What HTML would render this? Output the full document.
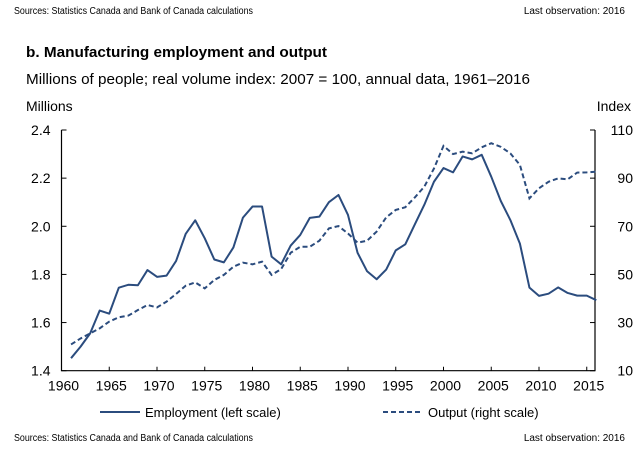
<!DOCTYPE html>
<html><head><meta charset="utf-8"><style>
body{margin:0;background:#fff;width:641px;height:450px;overflow:hidden}
svg{display:block;font-family:"Liberation Sans",Arial,sans-serif}
</style></head><body>
<svg id="chart" width="641" height="450" viewBox="0 0 641 450">
<text x="14" y="14" font-size="10" textLength="239" lengthAdjust="spacingAndGlyphs">Sources:  Statistics Canada and Bank of Canada calculations</text>
<text x="625" y="14" font-size="10" text-anchor="end">Last observation: 2016</text>
<text x="26" y="57" font-size="15" font-weight="bold" textLength="301" lengthAdjust="spacingAndGlyphs">b. Manufacturing employment and output</text>
<text x="26" y="84" font-size="15" textLength="504" lengthAdjust="spacingAndGlyphs">Millions of people; real volume index: 2007 = 100, annual data, 1961–2016</text>
<text x="26" y="111" font-size="14">Millions</text>
<text x="631" y="111" font-size="14" text-anchor="end">Index</text>
<g id="axes"></g>
<g id="series"></g>
<g>
<line x1="100" y1="412" x2="140" y2="412" stroke="#2b4c7e" stroke-width="2"/>
<text x="145" y="417" font-size="13">Employment  (left scale)</text>
<line x1="383" y1="412" x2="423" y2="412" stroke="#2b4c7e" stroke-width="2" stroke-dasharray="5,3"/>
<text x="428" y="417" font-size="13">Output  (right scale)</text>
</g>
<text x="14" y="441" font-size="10" textLength="239" lengthAdjust="spacingAndGlyphs">Sources:  Statistics Canada and Bank of Canada calculations</text>
<text x="625" y="441" font-size="10" text-anchor="end">Last observation: 2016</text>
</svg>
<script>
const years=[1961,1962,1963,1964,1965,1966,1967,1968,1969,1970,1971,1972,1973,1974,1975,1976,1977,1978,1979,1980,1981,1982,1983,1984,1985,1986,1987,1988,1989,1990,1991,1992,1993,1994,1995,1996,1997,1998,1999,2000,2001,2002,2003,2004,2005,2006,2007,2008,2009,2010,2011,2012,2013,2014,2015,2016];
const employment=[1.452,1.50,1.555,1.65,1.637,1.745,1.757,1.755,1.818,1.79,1.795,1.856,1.968,2.025,1.95,1.862,1.85,1.912,2.036,2.082,2.082,1.874,1.842,1.92,1.964,2.035,2.04,2.1,2.13,2.047,1.89,1.813,1.78,1.82,1.90,1.925,2.008,2.09,2.185,2.242,2.224,2.29,2.278,2.297,2.206,2.105,2.026,1.928,1.745,1.711,1.72,1.746,1.723,1.712,1.712,1.693];
const output=[20.9,23.4,25.5,27.6,30.4,32.2,32.9,35.2,37.3,36.3,38.7,41.9,45.3,46.7,44.2,47.7,49.8,53.2,54.9,54.2,55.3,49.8,52.2,59.0,61.5,61.5,64,69.1,70.1,67,63.2,64,67.8,73.7,76.8,77.9,82,86.5,94,103.4,100,101,100.3,102.8,104.5,103,100.3,95.5,81.6,85.8,88.5,89.9,89.5,92.3,92.4,92.7];
const leftTicks=[1.4,1.6,1.8,2.0,2.2,2.4];
const rightTicks=[10,30,50,70,90,110];
const xTicks=[1960,1965,1970,1975,1980,1985,1990,1995,2000,2005,2010,2015];
const X0=61.5,X1=595,Y0=370.7,Y1=130;
const x=yr=>X0+(yr-1960)*9.55;
const yL=v=>Y0-(v-1.4)/1.0*(Y0-Y1);
const yR=v=>Y0-(v-10)/100*(Y0-Y1);
const NS='http://www.w3.org/2000/svg';
function mk(t,a,p){const e=document.createElementNS(NS,t);for(const k in a)e.setAttribute(k,a[k]);p.appendChild(e);return e;}
const ax=document.getElementById('axes');
let e=mk('path',{d:`M${X0},${Y1}V${Y0}H${X1}V${Y1}`,fill:'none',stroke:'#000','stroke-width':1.2},ax);


leftTicks.forEach(v=>{mk('line',{x1:X0,x2:X0+5,y1:yL(v),y2:yL(v),stroke:'#000'},ax);
 const t=mk('text',{x:X0-11,y:yL(v)+5,'font-size':14,'text-anchor':'end'},ax);t.textContent=v.toFixed(1);
 
 });
rightTicks.forEach(v=>{mk('line',{x1:X1,x2:X1-5,y1:yR(v),y2:yR(v),stroke:'#000'},ax);
 const t=mk('text',{x:X1+38,y:yR(v)+5,'font-size':14,'text-anchor':'end'},ax);t.textContent=v;
 
 });
xTicks.forEach(v=>{mk('line',{x1:x(v),x2:x(v),y1:Y0,y2:Y0-4,stroke:'#000'},ax);
 const t=mk('text',{x:x(v)+2,y:Y0+20,'font-size':14,'text-anchor':'middle'},ax);t.textContent=v;
 
 });
const sg=document.getElementById('series');
let p=mk('polyline',{points:years.map((yr,i)=>x(yr)+','+yL(employment[i])).join(' '),fill:'none',stroke:'#2b4c7e','stroke-width':2,'stroke-linejoin':'round'},sg);


p=mk('polyline',{points:years.map((yr,i)=>x(yr)+','+yR(output[i])).join(' '),fill:'none',stroke:'#2b4c7e','stroke-width':2,'stroke-dasharray':'5,3'},sg);


</script>
</body></html>
